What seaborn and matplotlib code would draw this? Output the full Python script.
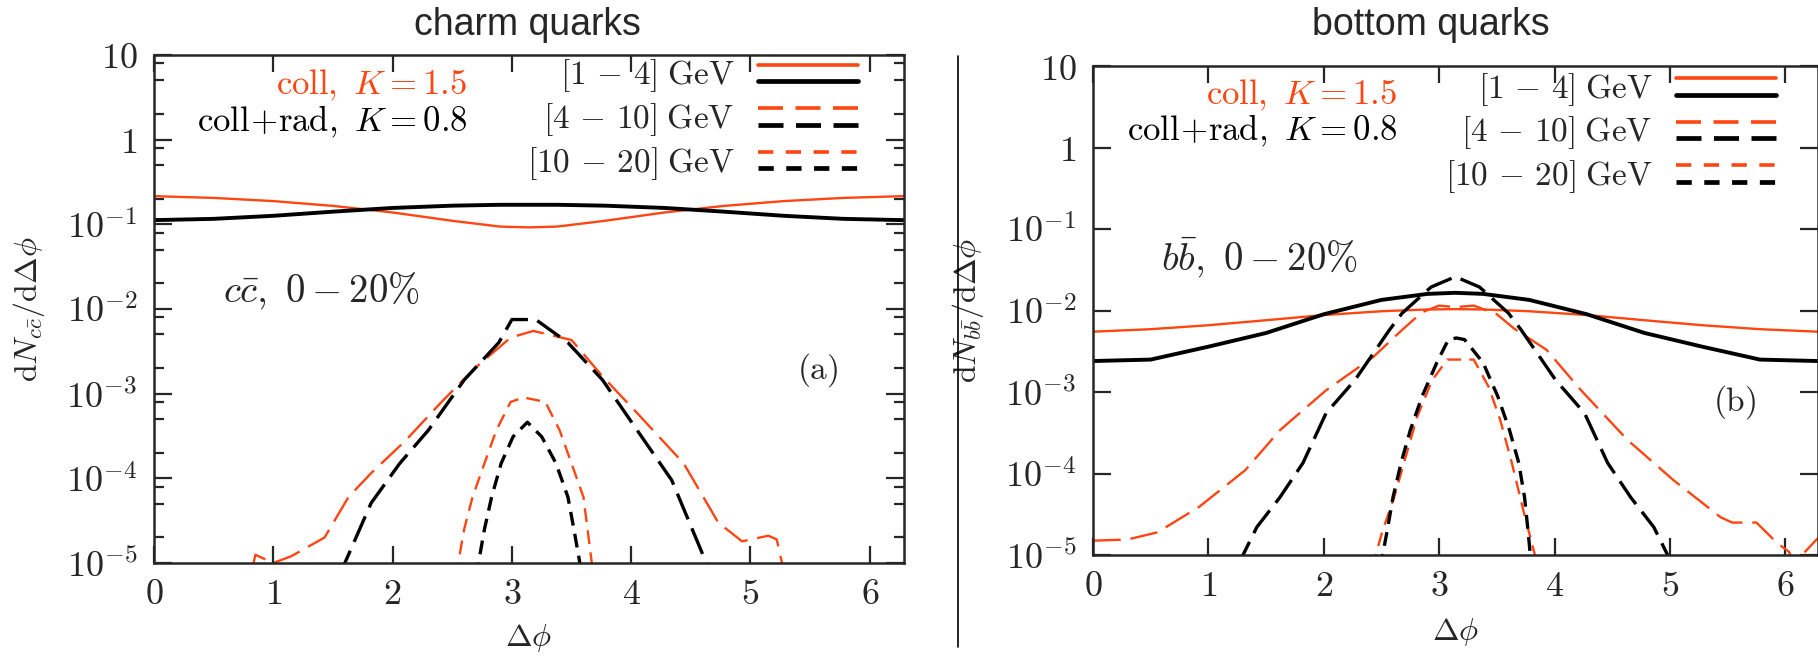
#!/usr/bin/env python3
import numpy as np
import seaborn as sns
import matplotlib.pyplot as plt
from matplotlib.lines import Line2D
from matplotlib.legend_handler import HandlerBase
from matplotlib.ticker import LogLocator, FuncFormatter, FixedLocator, NullFormatter

ORANGE = "#ff4512"
BLACK = "black"

# ---------------- charm quarks ----------------
cc_phi_14 = [0, 0.5, 1.0, 1.5, 2.0, 2.5, 2.9, 3.14, 3.38, 3.78, 4.28, 4.78, 5.28, 5.78, 6.28]
cc_coll_14 = [0.215, 0.205, 0.188, 0.165, 0.138, 0.110, 0.094, 0.092, 0.094, 0.110, 0.138, 0.165, 0.188, 0.205, 0.215]
cc_rad_14 = [0.112, 0.116, 0.126, 0.141, 0.156, 0.166, 0.170, 0.170, 0.170, 0.166, 0.156, 0.141, 0.126, 0.116, 0.112]

cc_phi_coll_410 = [0.82, 0.85, 1.0, 1.15, 1.43, 1.63, 1.82, 2.11, 2.40, 2.69, 2.99, 3.18, 3.5, 3.76, 4.05, 4.44, 4.73, 4.93, 5.15, 5.22, 5.28]
cc_coll_410 = [8e-6, 1.25e-5, 1.0e-5, 1.2e-5, 2.0e-5, 6.0e-5, 1.15e-4, 2.8e-4, 7.7e-4, 2.0e-3, 4.6e-3, 5.5e-3, 4.3e-3, 1.6e-3, 5.9e-4, 1.5e-4, 3.0e-5, 1.8e-5, 2.1e-5, 1.9e-5, 8e-6]
cc_phi_rad_410 = [1.55, 1.60, 1.82, 2.06, 2.3, 2.6, 2.89, 3.0, 3.2, 3.47, 3.76, 4.05, 4.34, 4.63, 4.68]
cc_rad_410 = [7e-6, 1e-5, 5.1e-5, 1.5e-4, 3.7e-4, 1.45e-3, 4.0e-3, 7.5e-3, 7.5e-3, 4.0e-3, 1.45e-3, 3.7e-4, 9.5e-5, 1e-5, 7e-6]

cc_phi_coll_1020 = [2.53, 2.55, 2.6, 2.67, 2.77, 2.87, 2.99, 3.1, 3.28, 3.4, 3.5, 3.6, 3.67, 3.69]
cc_coll_1020 = [7e-6, 1e-5, 2.5e-5, 6e-5, 1.5e-4, 3.7e-4, 8e-4, 9e-4, 8e-4, 3.7e-4, 1.5e-4, 6e-5, 1e-5, 7e-6]
cc_phi_rad_1020 = [2.70, 2.72, 2.77, 2.83, 2.91, 3.01, 3.13, 3.25, 3.37, 3.47, 3.52, 3.57, 3.59]
cc_rad_1020 = [7e-6, 1e-5, 2.5e-5, 6e-5, 1.5e-4, 3.1e-4, 4.6e-4, 3.1e-4, 1.5e-4, 6e-5, 2.5e-5, 1e-5, 7e-6]

# ---------------- bottom quarks ----------------
bb_phi_14 = [0, 0.5, 1.0, 1.5, 2.0, 2.5, 2.9, 3.14, 3.38, 3.78, 4.28, 4.78, 5.28, 5.78, 6.28]
bb_coll_14 = [5.5e-3, 5.9e-3, 6.6e-3, 7.6e-3, 8.8e-3, 9.8e-3, 1.03e-2, 1.04e-2, 1.03e-2, 9.8e-3, 8.8e-3, 7.6e-3, 6.6e-3, 5.9e-3, 5.5e-3]
bb_rad_14 = [2.4e-3, 2.5e-3, 3.6e-3, 5.3e-3, 9.0e-3, 1.35e-2, 1.6e-2, 1.65e-2, 1.6e-2, 1.35e-2, 9.0e-3, 5.3e-3, 3.6e-3, 2.5e-3, 2.4e-3]

bb_phi_coll_410 = [0, 0.3, 0.56, 0.92, 1.32, 1.62, 2.02, 2.43, 2.68, 2.85, 3.0, 3.14, 3.3, 3.5, 3.65, 3.93, 4.23, 4.63, 5.03, 5.44, 5.54, 5.75, 5.93, 6.03, 6.08, 6.28]
bb_coll_410 = [1.5e-5, 1.55e-5, 1.9e-5, 3.9e-5, 1.1e-4, 3.4e-4, 1.05e-3, 2.7e-3, 5.8e-3, 9.5e-3, 1.15e-2, 1.1e-2, 1.15e-2, 9e-3, 6e-3, 3.3e-3, 1.05e-3, 2.6e-4, 8.3e-5, 2.9e-5, 2.5e-5, 2.5e-5, 1.4e-5, 1.1e-5, 8e-6, 1.6e-5]
bb_phi_rad_410 = [1.27, 1.30, 1.42, 1.62, 1.82, 2.02, 2.27, 2.57, 2.68, 2.93, 3.14, 3.35, 3.60, 3.71, 4.01, 4.26, 4.46, 4.66, 4.86, 4.98, 5.01]
bb_rad_410 = [7e-6, 1e-5, 2.2e-5, 5.1e-5, 1.35e-4, 5.5e-4, 1.4e-3, 5.8e-3, 9.3e-3, 1.94e-2, 2.6e-2, 1.94e-2, 9.3e-3, 5.8e-3, 1.4e-3, 5.5e-4, 1.35e-4, 5.1e-5, 2.2e-5, 1e-5, 7e-6]

bb_phi_coll_1020 = [2.43, 2.45, 2.51, 2.61, 2.71, 2.81, 2.94, 3.07, 3.3, 3.43, 3.53, 3.63, 3.73, 3.83, 3.85]
bb_coll_1020 = [7e-6, 1e-5, 2e-5, 5.1e-5, 1.6e-4, 5e-4, 1.4e-3, 2.5e-3, 2.5e-3, 1.15e-3, 4.5e-4, 1.35e-4, 3.5e-5, 1e-5, 7e-6]
bb_phi_rad_1020 = [2.49, 2.51, 2.55, 2.6, 2.67, 2.75, 2.85, 2.98, 3.08, 3.15, 3.22, 3.38, 3.51, 3.61, 3.69, 3.74, 3.77, 3.79, 3.81]
bb_rad_1020 = [7e-6, 1e-5, 2e-5, 5.1e-5, 1.35e-4, 3.4e-4, 8.7e-4, 2.3e-3, 4.4e-3, 4.6e-3, 4.4e-3, 2.3e-3, 8.7e-4, 3.4e-4, 1.35e-4, 5.1e-5, 2e-5, 1e-5, 7e-6]

bin_labels = [r"$[1\,-\,4]\;\mathrm{GeV}$", r"$[4\,-\,10]\;\mathrm{GeV}$", r"$[10\,-\,20]\;\mathrm{GeV}$"]
x_ticks = [0, 1, 2, 3, 4, 5, 6]
y_decades = [1e-5, 1e-4, 1e-3, 1e-2, 1e-1, 1, 10]

LONG = (0, (20, 7))
SHORT = (0, (10, 6))


class PairHandler(HandlerBase):
    # orange sample above black sample, like the original key
    def create_artists(self, legend, orig_handle, xdescent, ydescent, width, height, fontsize, trans):
        out = []
        for line, frac in zip(orig_handle, (0.8, 0.2)):
            seg = Line2D([-xdescent, width - xdescent], [frac * height - ydescent] * 2)
            seg.update_from(line)
            seg.set_transform(trans)
            out.append(seg)
        return out


def log_label(v, pos):
    e = int(round(np.log10(v)))
    if e == 0:
        return "$1$"
    if e == 1:
        return "$10$"
    return "$10^{%d}$" % e


def panel(ax, series, ylabel, pair_text, pair_pos, tag, tag_pos, text_x, key_anchor, ylab_x, xlab_y):
    ax.set_yscale("log")
    for phi, val, color, lw, ls in series:
        sns.lineplot(x=phi, y=val, ax=ax, color=color, lw=lw, linestyle=ls,
                     estimator=None, sort=False)
    ax.set_xlim(0, 2 * np.pi)
    ax.set_ylim(1e-5, 10)
    ax.xaxis.set_major_locator(FixedLocator(x_ticks))
    ax.xaxis.set_major_formatter(FuncFormatter(lambda v, p: "$%d$" % v))
    ax.yaxis.set_major_locator(FixedLocator(y_decades))
    ax.yaxis.set_major_formatter(FuncFormatter(log_label))
    ax.yaxis.set_minor_locator(LogLocator(base=10, subs=(2, 5, 8)))
    ax.yaxis.set_minor_formatter(NullFormatter())
    ax.tick_params(which="both", direction="in", top=True, right=True, width=1.6, labelsize=26)
    ax.tick_params(axis="x", which="major", length=12, pad=10)
    ax.tick_params(axis="y", which="major", length=13, pad=12)
    ax.tick_params(axis="y", which="minor", length=7)
    for s in ax.spines.values():
        s.set_linewidth(1.8)
    ax.set_xlabel(r"$\Delta\phi$", fontsize=23, va="center")
    ax.set_ylabel(ylabel, fontsize=23)
    ax.xaxis.set_label_coords(0.5, xlab_y)
    ax.yaxis.set_label_coords(ylab_x, 0.5)

    ax.text(text_x, 0.94, r"$\mathrm{coll},\ K=1.5$", color=ORANGE, fontsize=25,
            ha="right", va="center", transform=ax.transAxes)
    ax.text(text_x, 0.868, r"$\mathrm{coll\!+\!rad},\ K=0.8$", color=BLACK, fontsize=25,
            ha="right", va="center", transform=ax.transAxes)
    ax.text(pair_pos[0], pair_pos[1], pair_text, fontsize=28, ha="left", va="center", transform=ax.transAxes)
    ax.text(tag_pos[0], tag_pos[1], tag, fontsize=24, ha="center", va="center", transform=ax.transAxes)

    keys = [
        (Line2D([], [], color=ORANGE, lw=2.6), Line2D([], [], color=BLACK, lw=3.4)),
        (Line2D([], [], color=ORANGE, lw=2.6, linestyle=(0, (18, 9))), Line2D([], [], color=BLACK, lw=3.4, linestyle=(0, (18, 9)))),
        (Line2D([], [], color=ORANGE, lw=2.6, linestyle=(0, (11, 9))), Line2D([], [], color=BLACK, lw=3.4, linestyle=(0, (11, 9)))),
    ]
    ax.legend(keys, bin_labels, handler_map={tuple: PairHandler()}, loc="upper right",
              bbox_to_anchor=key_anchor, frameon=False, markerfirst=False, fontsize=24,
              handlelength=3.0, handleheight=0.9, handletextpad=0.7, labelspacing=0.2,
              borderpad=0, borderaxespad=0)


def main():
    sns.set_style("ticks")
    plt.rcParams["mathtext.fontset"] = "cm"
    plt.rcParams["font.family"] = ["DejaVu Serif"]
    plt.rcParams["lines.scale_dashes"] = False

    fig = plt.figure(figsize=(18.18, 6.59), dpi=100)
    ax1 = fig.add_axes([0.0847, 0.1457, 0.4123, 0.7709])
    ax2 = fig.add_axes([0.6012, 0.1578, 0.3988, 0.7420])

    charm = [
        (cc_phi_14, cc_coll_14, ORANGE, 1.7, "-"),
        (cc_phi_14, cc_rad_14, BLACK, 2.8, "-"),
        (cc_phi_coll_410, cc_coll_410, ORANGE, 1.7, LONG),
        (cc_phi_rad_410, cc_rad_410, BLACK, 2.4, LONG),
        (cc_phi_coll_1020, cc_coll_1020, ORANGE, 1.7, SHORT),
        (cc_phi_rad_1020, cc_rad_1020, BLACK, 2.4, SHORT),
    ]
    bottom = [
        (bb_phi_14, bb_coll_14, ORANGE, 1.7, "-"),
        (bb_phi_14, bb_rad_14, BLACK, 2.8, "-"),
        (bb_phi_coll_410, bb_coll_410, ORANGE, 1.7, LONG),
        (bb_phi_rad_410, bb_rad_410, BLACK, 2.4, LONG),
        (bb_phi_coll_1020, bb_coll_1020, ORANGE, 1.7, SHORT),
        (bb_phi_rad_1020, bb_rad_1020, BLACK, 2.4, SHORT),
    ]

    panel(ax1, charm, r"$\mathrm{d}N_{c\bar{c}}/\mathrm{d}\Delta\phi$", r"$c\bar{c},\ 0-20\%$", (0.092, 0.537),
          r"$(\mathrm{a})$", (0.885, 0.38), 0.418, (0.939, 0.995), -0.143, -0.148)
    panel(ax2, bottom, r"$\mathrm{d}N_{b\bar{b}}/\mathrm{d}\Delta\phi$", r"$b\bar{b},\ 0-20\%$", (0.094, 0.607),
          r"$(\mathrm{b})$", (0.885, 0.313), 0.42, (0.942, 0.99), -0.147, -0.158)

    fig.text(0.29, 0.962, "charm quarks", family="Liberation Sans", fontsize=27, ha="center", va="center")
    fig.text(0.787, 0.962, "bottom quarks", family="Liberation Sans", fontsize=27, ha="center", va="center")
    fig.add_artist(Line2D([0.527, 0.527], [0.018, 0.915], color="black", lw=1.2, transform=fig.transFigure))

    fig.savefig("out.png", dpi=100)


if __name__ == "__main__":
    main()
